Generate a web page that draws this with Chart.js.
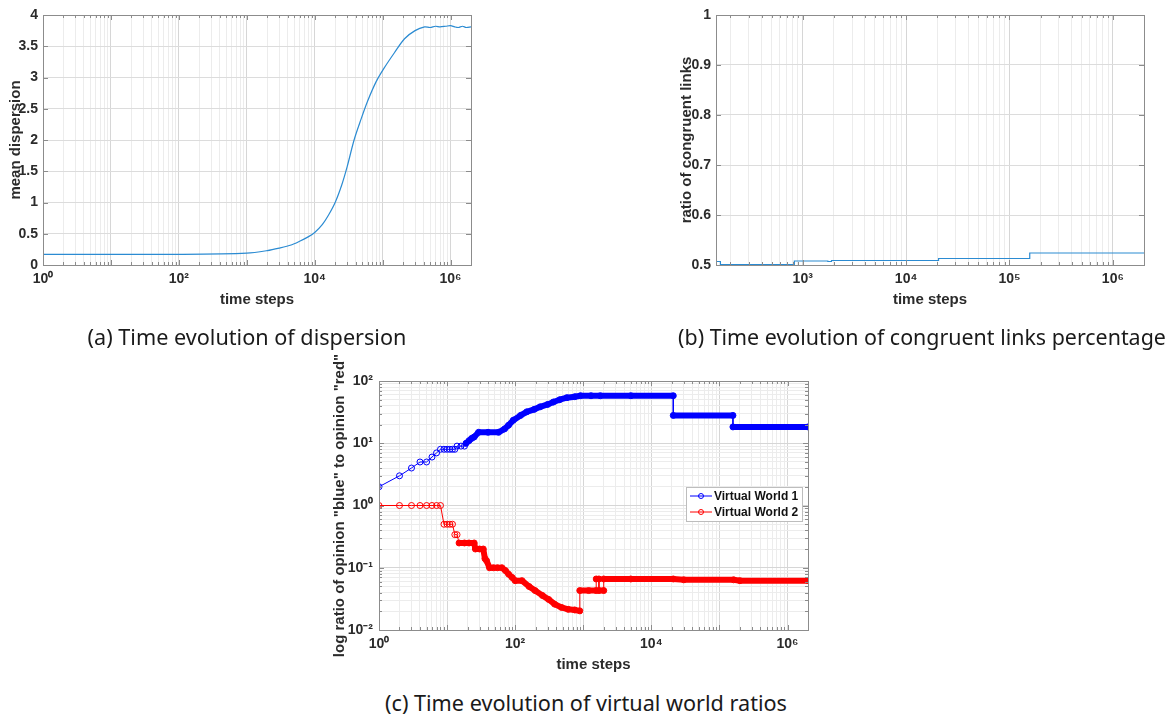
<!DOCTYPE html>
<html>
<head>
<meta charset="utf-8">
<script src="https://cdn.jsdelivr.net/npm/chart.js@4.4.0/dist/chart.umd.min.js"></script>
<style>
  body { margin: 0; background: #fff; }
  #page { position: relative; width: 1174px; height: 716px; overflow: hidden; background: #fff; }
  .box { position: absolute; }
  .cap { position: absolute; font-family: "Noto Sans", sans-serif; font-size: 20px; color: #1a1a1a; white-space: nowrap; line-height: 1; }
</style>
</head>
<body>
<div id="page">
  <div class="box" style="left:0px;top:0px;"><canvas id="chartA" width="480" height="310"></canvas></div>
  <div class="box" style="left:660px;top:0px;"><canvas id="chartB" width="514" height="310"></canvas></div>
  <div class="box" style="left:325px;top:350px;"><canvas id="chartC" width="495" height="330"></canvas></div>
  <div class="cap" id="capA" data-cx="247" data-cy="337" data-w="319">(a) Time evolution of dispersion</div>
  <div class="cap" id="capB" data-cx="922" data-cy="337" data-w="488">(b) Time evolution of congruent links percentage</div>
  <div class="cap" id="capC" data-cx="586" data-cy="703" data-w="402">(c) Time evolution of virtual world ratios</div>
</div>
<script>
// (a) mean dispersion over time
const dispSteps = [1, 10, 100, 1000, 2000, 3000, 4500, 6000, 8000, 10000, 13000, 16000, 20000, 25000, 30000,
  38000, 48000, 60000, 80000, 105000, 150000, 210000, 300000, 415000, 500000, 600000, 700000, 850000,
  1000000, 1150000, 1300000, 1500000, 1700000, 2000000];
const dispValues = [0.17, 0.17, 0.17, 0.19, 0.23, 0.27, 0.32, 0.38, 0.45, 0.52, 0.65, 0.8, 1.0, 1.28, 1.57,
  2.0, 2.33, 2.62, 2.93, 3.15, 3.4, 3.62, 3.75, 3.81, 3.8, 3.82, 3.81, 3.82,
  3.83, 3.81, 3.8, 3.82, 3.8, 3.81];

// (b) ratio of congruent links (step values)
const linkSteps = [145, 160, 830, 1650, 1750, 1900, 20600, 157000, 2000000];
const linkValues = [0.507, 0.501, 0.508, 0.508, 0.507, 0.509, 0.513, 0.524, 0.524];

// (c) virtual world ratios
const world1Steps = [1, 2, 3, 4, 5, 6, 7, 8, 9, 10, 11, 12, 13, 14, 16, 18, 19, 21, 23, 25, 29, 40, 57, 70, 80,
  94, 120, 148, 190, 233, 300, 365, 450, 575, 750, 910, 1300, 1780, 5000, 21000, 21000, 158000, 158000, 2000000];
const world1Values = [2, 3, 4, 5, 5, 6, 7, 8, 8, 8, 8, 8, 8, 9, 9, 9, 10, 11, 12, 12.6, 15, 15, 15, 17, 19.5,
  23.5, 28, 32, 35, 38.5, 42, 46, 50, 54, 56, 58, 58, 58, 58, 58, 28, 28, 18.3, 18.3];
const world2Steps = [1, 2, 3, 4, 5, 6, 7, 8, 9, 10, 11, 12, 13, 14, 15, 18, 21, 25, 26, 30, 34, 36, 38, 42, 48,
  55, 64, 72, 80, 90, 100, 126, 160, 196, 250, 310, 380, 480, 600, 750, 890, 890, 1200, 1550, 1550, 1700,
  1700, 2000, 2000, 5000, 21000, 30000, 162000, 200000, 2000000];
const world2Values = [1, 1, 1, 1, 1, 1, 1, 1, 0.5, 0.5, 0.5, 0.5, 0.34, 0.34, 0.25, 0.25, 0.25, 0.25, 0.2, 0.2,
  0.2, 0.14, 0.13, 0.1, 0.1, 0.1, 0.1, 0.09, 0.079, 0.07, 0.062, 0.062, 0.05, 0.043, 0.036, 0.031, 0.026,
  0.023, 0.0215, 0.021, 0.0203, 0.043, 0.043, 0.043, 0.066, 0.066, 0.043, 0.043, 0.066, 0.066, 0.066,
  0.064, 0.064, 0.062, 0.062];
const worldLabels = ['Virtual World 1', 'Virtual World 2'];

// tick labels
const xLabelsA = [1, 100, 10000, 1000000];
const xLabelsB = [1000, 10000, 100000, 1000000];
const xLabelsC = [1, 100, 10000, 1000000];
const yLabelsC = [0.01, 0.1, 1, 10, 100];

const tickFont = { family: 'Liberation Sans, Arial, sans-serif', size: 14, weight: 'bold' };
const titleFont = { family: 'Liberation Sans, Arial, sans-serif', size: 15, weight: 'bold' };
const textColor = '#2b2b2b';
const sup = { '-': '\u207B', '0': '\u2070', '1': '\u00B9', '2': '\u00B2', '3': '\u00B3', '4': '\u2074',
  '5': '\u2075', '6': '\u2076', '7': '\u2077', '8': '\u2078', '9': '\u2079' };

const toPoints = (xs, ys) => xs.map((x, i) => ({ x: x, y: ys[i] }));
const isDecade = v => Math.abs(Math.log10(v) - Math.round(Math.log10(v))) < 1e-9;
const powLabel = v => '10' + String(Math.round(Math.log10(v))).split('').map(c => sup[c]).join('');

// all 1..9 x 10^k gridlines inside [min, max]
function logGrid(min, max) {
  const out = [];
  for (let e = -3; e <= 7; e++) {
    for (let m = 1; m <= 9; m++) {
      const v = +(m * Math.pow(10, e)).toPrecision(6);
      if (v >= min * 0.999 && v <= max * 1.001) out.push({ value: v });
    }
  }
  return out;
}

function logAxis(min, max, labels, extra) {
  return Object.assign({
    type: 'logarithmic', min: min, max: max,
    afterBuildTicks: scale => { scale.ticks = logGrid(min, max); },
    ticks: {
      autoSkip: false, maxRotation: 0, color: textColor, font: tickFont, padding: 6,
      callback: v => labels.some(l => Math.abs(l - v) / l < 1e-9) ? powLabel(v) : ''
    },
    grid: {
      drawTicks: false,
      color: ctx => ctx.tick && isDecade(ctx.tick.value) ? '#d6d6d6' : '#ececec'
    },
    border: { display: false }
  }, extra || {});
}

// MATLAB style box with inward ticks
const boxPlugin = {
  id: 'box',
  afterDraw(chart) {
    const { ctx, chartArea: a } = chart;
    ctx.save();
    ctx.strokeStyle = '#8c8c8c';
    ctx.lineWidth = 1;
    ctx.beginPath();
    const xs = chart.scales.x, ys = chart.scales.y;
    xs.ticks.forEach(t => {
      const p = Math.round(xs.getPixelForValue(t.value)) + 0.5;
      const len = xs.type === 'logarithmic' && !isDecade(t.value) ? 3 : 5;
      ctx.moveTo(p, a.bottom); ctx.lineTo(p, a.bottom - len);
      ctx.moveTo(p, a.top); ctx.lineTo(p, a.top + len);
    });
    ys.ticks.forEach(t => {
      const p = Math.round(ys.getPixelForValue(t.value)) + 0.5;
      const len = ys.type === 'logarithmic' && !isDecade(t.value) ? 3 : 5;
      ctx.moveTo(a.left, p); ctx.lineTo(a.left + len, p);
      ctx.moveTo(a.right, p); ctx.lineTo(a.right - len, p);
    });
    ctx.stroke();
    ctx.strokeRect(Math.round(a.left) + 0.5, Math.round(a.top) + 0.5,
      Math.round(a.right - a.left), Math.round(a.bottom - a.top));
    ctx.restore();
  }
};

// legend box drawn inside the plot like MATLAB's
const legendPlugin = {
  id: 'innerLegend',
  afterDraw(chart) {
    const { ctx, chartArea: a } = chart;
    const x0 = a.right - 122, y0 = a.top + 106, w = 116, h = 34;
    ctx.save();
    ctx.fillStyle = '#fff';
    ctx.fillRect(x0, y0, w, h);
    ctx.strokeStyle = '#bdbdbd';
    ctx.lineWidth = 1;
    ctx.strokeRect(x0 + 0.5, y0 + 0.5, w, h);
    ctx.font = 'bold 12px "Liberation Sans", Arial, sans-serif';
    ctx.textBaseline = 'middle';
    chart.data.datasets.forEach((ds, i) => {
      const cy = y0 + 9 + i * 16;
      ctx.strokeStyle = ds.borderColor;
      ctx.beginPath();
      ctx.moveTo(x0 + 4, cy); ctx.lineTo(x0 + 26, cy);
      ctx.stroke();
      ctx.beginPath();
      ctx.arc(x0 + 15, cy, 2.5, 0, Math.PI * 2);
      ctx.stroke();
      ctx.fillStyle = '#111';
      ctx.fillText(ds.label, x0 + 28, cy + 1);
    });
    ctx.restore();
  }
};

const fixedSize = (w, h) => ({
  afterFit: s => { if (w !== null) s.width = w; if (h !== null) s.height = h; }
});

const common = {
  responsive: false,
  devicePixelRatio: 1,
  animation: false,
  events: [],
  plugins: { legend: { display: false }, tooltip: { enabled: false } }
};

// chart (a)
new Chart(document.getElementById('chartA'), {
  type: 'line',
  data: {
    datasets: [{
      data: toPoints(dispSteps, dispValues),
      borderColor: '#2b8bd2', borderWidth: 1.2, pointRadius: 0, fill: false, tension: 0.3
    }]
  },
  options: Object.assign({}, common, {
    layout: { padding: { left: 0, top: 15, right: 9, bottom: 0 } },
    scales: {
      x: logAxis(1, 2000000, xLabelsA, Object.assign({
        title: { display: true, text: 'time steps', color: textColor, font: titleFont, padding: { top: 0, bottom: 1 } }
      }, fixedSize(null, 45))),
      y: Object.assign({
        min: 0, max: 4,
        ticks: { stepSize: 0.5, color: textColor, font: tickFont, padding: 5, callback: v => String(v) },
        grid: { drawTicks: false, color: '#dcdcdc' },
        border: { display: false },
        title: { display: true, text: 'mean dispersion', color: textColor, font: titleFont, padding: { top: 7, bottom: 0 } }
      }, fixedSize(43, null))
    }
  }),
  plugins: [boxPlugin]
});

// chart (b)
new Chart(document.getElementById('chartB'), {
  type: 'line',
  data: {
    datasets: [{
      data: toPoints(linkSteps, linkValues),
      borderColor: '#2b8bd2', borderWidth: 1.2, pointRadius: 0, fill: false, stepped: 'before'
    }]
  },
  options: Object.assign({}, common, {
    layout: { padding: { left: 0, top: 15, right: 30, bottom: 0 } },
    scales: {
      x: logAxis(145, 2000000, xLabelsB, Object.assign({
        title: { display: true, text: 'time steps', color: textColor, font: titleFont, padding: { top: 0, bottom: 1 } }
      }, fixedSize(null, 45))),
      y: Object.assign({
        min: 0.5, max: 1,
        ticks: { stepSize: 0.1, color: textColor, font: tickFont, padding: 5,
          callback: v => Math.abs(v - 1) < 1e-9 ? '1' : v.toFixed(1) },
        grid: { drawTicks: false, color: '#dcdcdc' },
        border: { display: false },
        title: { display: true, text: 'ratio of congruent links', color: textColor, font: titleFont, padding: { top: 18, bottom: 0 } }
      }, fixedSize(56, null))
    }
  }),
  plugins: [boxPlugin]
});

// thick band where markers crowd together, thin for vertical jumps
const denseFrom = tx => ctx =>
  (ctx.p0.parsed.x >= tx && ctx.p0.parsed.x !== ctx.p1.parsed.x) ? 6 : 1;

// chart (c)
new Chart(document.getElementById('chartC'), {
  type: 'line',
  data: {
    datasets: [
      {
        label: worldLabels[0], data: toPoints(world1Steps, world1Values),
        borderColor: '#0000ff', borderWidth: 1, borderCapStyle: 'round', borderJoinStyle: 'round',
        pointRadius: 3, pointBorderWidth: 1, pointBorderColor: '#0000ff', pointBackgroundColor: 'rgba(0,0,0,0)',
        segment: { borderWidth: denseFrom(19) }, fill: false, tension: 0
      },
      {
        label: worldLabels[1], data: toPoints(world2Steps, world2Values),
        borderColor: '#ff0000', borderWidth: 1, borderCapStyle: 'round', borderJoinStyle: 'round',
        pointRadius: 3, pointBorderWidth: 1, pointBorderColor: '#ff0000', pointBackgroundColor: 'rgba(0,0,0,0)',
        segment: { borderWidth: denseFrom(15) }, fill: false, tension: 0
      }
    ]
  },
  options: Object.assign({}, common, {
    layout: { padding: { left: 0, top: 31, right: 12, bottom: 0 } },
    scales: {
      x: logAxis(1, 2000000, xLabelsC, Object.assign({
        title: { display: true, text: 'time steps', color: textColor, font: titleFont, padding: { top: 0, bottom: 6 } }
      }, fixedSize(null, 50))),
      y: logAxis(0.01, 100, yLabelsC, Object.assign({
        title: { display: true, text: 'log ratio of opinion "blue" to opinion "red"', color: textColor, font: titleFont, padding: { top: 6, bottom: 0 } }
      }, fixedSize(54, null)))
    }
  }),
  plugins: [boxPlugin, legendPlugin]
});

// fit the captions to their widths in the figure
document.querySelectorAll('.cap').forEach(el => {
  const target = +el.dataset.w;
  const size = 20 * target / el.getBoundingClientRect().width;
  el.style.fontSize = size.toFixed(2) + 'px';
  const r = el.getBoundingClientRect();
  el.style.left = (+el.dataset.cx - r.width / 2) + 'px';
  el.style.top = (+el.dataset.cy - r.height / 2) + 'px';
});
</script>
</body>
</html>
